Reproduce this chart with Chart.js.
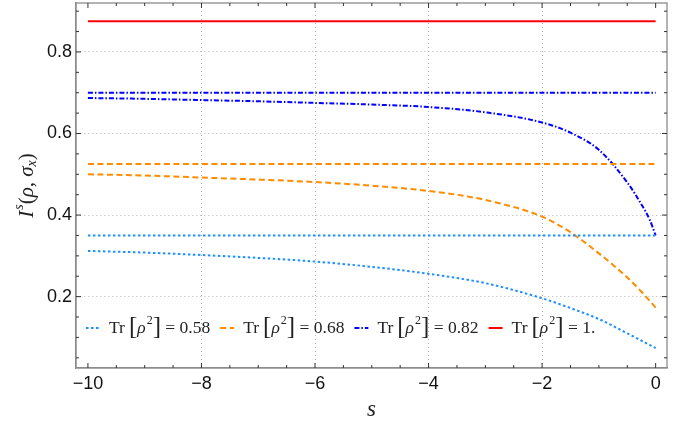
<!DOCTYPE html>
<html>
<head>
<meta charset="utf-8">
<script src="https://cdn.jsdelivr.net/npm/chart.js@4.4.1/dist/chart.umd.min.js"></script>
<style>
  html, body { margin: 0; padding: 0; background: #fff; }
</style>
</head>
<body>
<canvas id="chart" width="693" height="431"></canvas>
<script>
const sValues = [-10, -9, -8, -7, -6, -5, -4, -3, -2, -1.5, -1, -0.5, -0.25, -0.1, 0];
const purityLabels = ['0.58', '0.68', '0.82', '1.'];
const flatLevels = [0.35, 0.525, 0.70, 0.875];
const curve058 = [0.312, 0.308, 0.302, 0.295, 0.286, 0.273, 0.256, 0.233, 0.196, 0.172, 0.145, 0.110, 0.092, 0.081, 0.074];
const curve068 = [0.500, 0.497, 0.492, 0.487, 0.481, 0.472, 0.459, 0.437, 0.396, 0.358, 0.306, 0.247, 0.212, 0.189, 0.173];
const curve082 = [0.687, 0.685, 0.682, 0.679, 0.675, 0.671, 0.665, 0.652, 0.627, 0.602, 0.560, 0.480, 0.426, 0.387, 0.350];
const xTicks = [-10, -8, -6, -4, -2, 0];
const yTicks = [0.2, 0.4, 0.6, 0.8];

const colors = ['#1e8fff', '#ff8c00', '#0000ff', '#ff0000'];
const dashes = [[2.5, 2.5], [6, 3.5], [5, 2, 1.5, 2], []];
const curves = [curve058, curve068, curve082];

// Build datasets ...............................................................
const datasets = [];
for (let i = 0; i < flatLevels.length; i++) {
    datasets.push({
        data: [{x: sValues[0], y: flatLevels[i]}, {x: sValues[sValues.length - 1], y: flatLevels[i]}],
        borderColor: colors[i],
        borderWidth: 2,
        borderDash: dashes[i],
        pointRadius: 0,
        fill: false
    });
    if (curves[i]) {
        datasets.push({
            data: sValues.map((s, k) => ({x: s, y: curves[i][k]})),
            borderColor: colors[i],
            borderWidth: 2,
            borderDash: dashes[i],
            pointRadius: 0,
            cubicInterpolationMode: 'monotone',
            fill: false
        });
    }
}

const tickFont = {family: 'Liberation Sans', size: 18};
const minus = v => String(v).replace('-', '\u2212');

// draw a row of text pieces, returns end x
function drawPieces(ctx, x, y, pieces) {
    pieces.forEach(p => {
        ctx.font = p.font;
        ctx.fillText(p.t, x, y + (p.dy || 0));
        x += ctx.measureText(p.t).width + (p.gap || 0);
    });
    return x;
}
function piecesWidth(ctx, pieces) {
    let w = 0;
    pieces.forEach(p => { ctx.font = p.font; w += ctx.measureText(p.t).width + (p.gap || 0); });
    return w;
}

// Frame, inward ticks, legend, axis titles ......................................
const decorations = {
    id: 'decorations',
    afterDatasetsDraw(chart) {
        const {ctx, chartArea: a, scales: {x, y}} = chart;
        ctx.save();

        ctx.strokeStyle = '#8c8c8c';
        ctx.lineWidth = 1.3;
        ctx.strokeRect(a.left, a.top, a.right - a.left, a.bottom - a.top);

        ctx.strokeStyle = '#333';
        ctx.lineWidth = 1;
        ctx.beginPath();
        for (let k = 0; k <= 20; k++) {
            const v = -10 + k * 0.5;
            const len = k % 4 === 0 ? 5 : 3;
            const px = x.getPixelForValue(v);
            ctx.moveTo(px, a.bottom); ctx.lineTo(px, a.bottom - len);
            ctx.moveTo(px, a.top); ctx.lineTo(px, a.top + len);
        }
        for (let k = 1; k <= 18; k++) {
            const v = k * 0.05;
            const len = k % 4 === 0 ? 5 : 3;
            const py = y.getPixelForValue(v);
            ctx.moveTo(a.left, py); ctx.lineTo(a.left + len, py);
            ctx.moveTo(a.right, py); ctx.lineTo(a.right - len, py);
        }
        ctx.stroke();

        // legend
        const serif = 'Liberation Serif';
        let lx = a.left + 10;
        const ly = a.bottom - 40;
        ctx.textBaseline = 'middle';
        ctx.fillStyle = '#222';
        for (let i = 0; i < purityLabels.length; i++) {
            ctx.strokeStyle = colors[i];
            ctx.lineWidth = 2;
            ctx.setLineDash(dashes[i]);
            ctx.beginPath();
            ctx.moveTo(lx, ly); ctx.lineTo(lx + 14, ly);
            ctx.stroke();
            ctx.setLineDash([]);
            lx += 23;
            lx = drawPieces(ctx, lx, ly, [
                {t: 'Tr', font: `17.5px ${serif}`, gap: 4},
                {t: '[', font: `25px ${serif}`, dy: -1},
                {t: 'ρ', font: `italic 17.5px ${serif}`, gap: 1},
                {t: '2', font: `12px ${serif}`, dy: -7},
                {t: ']', font: `25px ${serif}`, dy: -1},
                {t: ' = ' + purityLabels[i], font: `17.5px ${serif}`}
            ]);
            lx += 10;
        }

        // y title
        const yParts = [
            {t: 'I', font: `italic 21px ${serif}`, gap: 1},
            {t: 's', font: `italic 14px ${serif}`, dy: -8},
            {t: '(', font: `21px ${serif}`},
            {t: 'ρ', font: `italic 21px ${serif}`},
            {t: ', ', font: `21px ${serif}`},
            {t: 'σ', font: `italic 21px ${serif}`},
            {t: 'x', font: `italic 14px ${serif}`, dy: 5},
            {t: ')', font: `21px ${serif}`}
        ];
        ctx.save();
        ctx.translate(27, (a.top + a.bottom) / 2);
        ctx.rotate(-Math.PI / 2);
        drawPieces(ctx, -piecesWidth(ctx, yParts) / 2, 0, yParts);
        ctx.restore();

        // x title
        ctx.font = `italic 23px ${serif}`;
        ctx.textAlign = 'center';
        ctx.fillText('s', (a.left + a.right) / 2, 410);

        ctx.restore();
    }
};

new Chart(document.getElementById('chart').getContext('2d'), {
    type: 'line',
    data: {datasets: datasets},
    plugins: [decorations],
    options: {
        responsive: false,
        animation: false,
        layout: {padding: {top: 3, right: 26, left: 0, bottom: 0}},
        plugins: {legend: {display: false}, tooltip: {enabled: false}},
        scales: {
            x: {
                type: 'linear',
                min: -10.21,
                max: 0.2,
                afterBuildTicks: s => { s.ticks = xTicks.map(v => ({value: v})); },
                afterFit: s => { s.height = 63; s.paddingLeft = 0; s.paddingRight = 0; },
                ticks: {callback: v => minus(v), font: tickFont, color: '#111', padding: 5, maxRotation: 0, autoSkip: false},
                grid: {
                    drawTicks: false,
                    lineWidth: 1,
                    color: c => (c.tick && (c.tick.value === -10 || c.tick.value === 0)) ? 'rgba(0,0,0,0)' : '#b5b5b5'
                },
                border: {color: '#8c8c8c', width: 1.3, dash: [1, 3]}
            },
            y: {
                type: 'linear',
                min: 0.025,
                max: 0.92,
                afterBuildTicks: s => { s.ticks = yTicks.map(v => ({value: v})); },
                afterFit: s => { s.width = 76; s.paddingTop = 0; s.paddingBottom = 0; },
                ticks: {callback: v => String(v), font: tickFont, color: '#111', padding: 4},
                grid: {drawTicks: false, lineWidth: 1, color: '#b5b5b5'},
                border: {color: '#8c8c8c', width: 1.3, dash: [1, 3]}
            }
        }
    }
});
</script>
</body>
</html>
